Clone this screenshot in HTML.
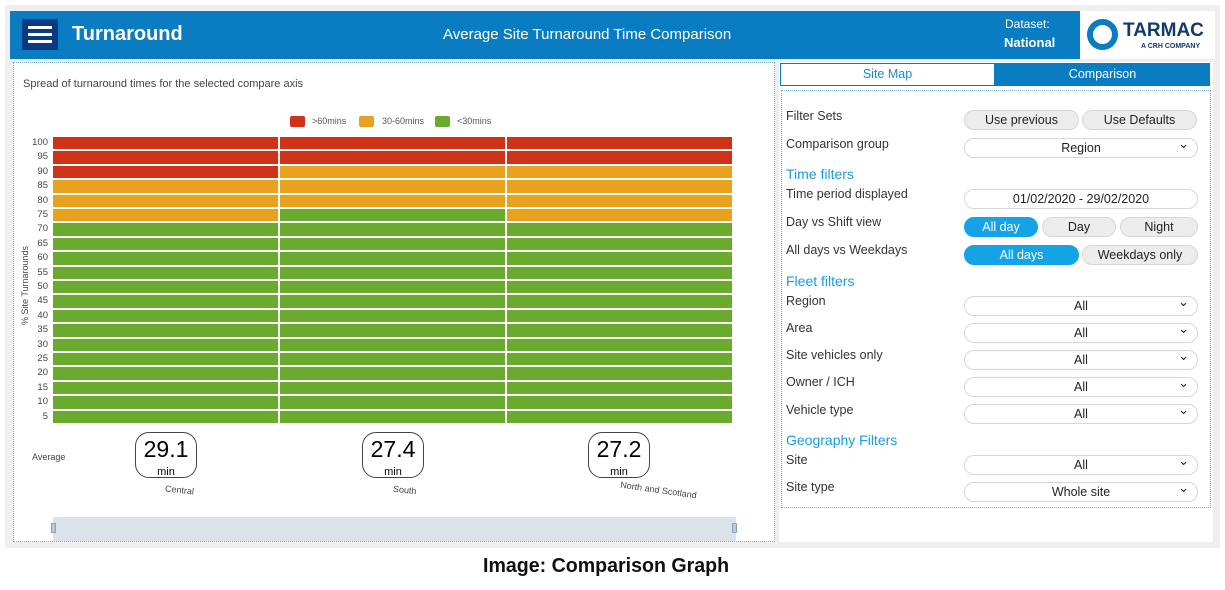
<!DOCTYPE html>
<html><head><meta charset="utf-8"><style>
*{margin:0;padding:0;box-sizing:border-box}
body{width:1225px;height:590px;background:#fff;font-family:"Liberation Sans",sans-serif;position:relative;overflow:hidden}
.a{position:absolute}
.frame{left:5px;top:5px;width:1215px;height:543px;background:#efefef}
.hdr{left:10px;top:11px;width:1205px;height:48px;background:#0a7cc1;color:#fff}
.lp{left:13px;top:62px;width:762px;height:480px;background:#fff;border:1px dotted #7aaedc}
.rp{left:779px;top:62px;width:434px;height:480px;background:#fff}
.lbl{font-size:12.5px;color:#333}
.btn{position:absolute;height:20px;border-radius:10px;background:#ececec;border:1px solid #d6d6d6;font-size:12.5px;text-align:center;line-height:18px;color:#222}
.sel{position:absolute;left:964px;width:234px;height:20px;border-radius:10px;background:#fff;border:1px solid #d6d6d6;font-size:12.5px;text-align:center;line-height:18px;color:#222}
.sel:after{content:"⌄";position:absolute;right:8px;top:-4px;font-size:13px}
.on{background:#13a3e6;color:#fff;border-color:#13a3e6}
.h2{color:#1a9be0;font-size:14px}
.pill{position:absolute;top:432px;width:62px;height:46px;border:1.5px solid #444;border-radius:14px;text-align:center;background:#fff}
.pill b{display:block;font-weight:normal;font-size:23px;line-height:26px;margin-top:3px}
.pill i{font-style:normal;font-size:11px}
.yl{position:absolute;left:26px;width:22px;text-align:right;font-size:9.5px;color:#444}
</style></head><body>
<div class="a frame"></div>
<div class="a hdr">
 <div class="a" style="left:12px;top:8px;width:36px;height:31px;background:#0a3a82"></div>
 <div class="a" style="left:18px;top:15px;width:24px;height:3px;background:#fff;box-shadow:0 7px 0 #fff,0 14px 0 #fff"></div>
 <div class="a" style="left:62px;top:12px;font-size:20px;font-weight:bold">Turnaround</div>
 <div class="a" style="left:433px;top:15px;font-size:15px">Average Site Turnaround Time Comparison</div>
 <div class="a" style="left:995px;top:6px;font-size:12px">Dataset:</div>
 <div class="a" style="left:994px;top:24px;font-size:13px;font-weight:bold">National</div>
 <div class="a" style="left:1070px;top:0;width:135px;height:48px;background:#fff"></div>
 <div class="a" style="left:1077px;top:8px;width:31px;height:31px;border:6px solid #0a7cc1;border-radius:50%"></div>
 <div class="a" style="left:1113px;top:9px;font-size:19px;font-weight:bold;color:#123a6a">TARMAC</div>
 <div class="a" style="left:1131px;top:32px;font-size:7px;font-weight:bold;color:#123a6a">A CRH COMPANY</div>
</div>
<div class="a lp">
 <div class="a" style="left:9px;top:15px;font-size:11px;color:#444">Spread of turnaround times for the selected compare axis</div>
 <div class="a" style="left:276px;top:53px;width:15px;height:11px;background:#d03218;border-radius:2px"></div>
 <div class="a" style="left:298px;top:53px;font-size:9px;color:#555">&gt;60mins</div>
 <div class="a" style="left:345px;top:53px;width:15px;height:11px;background:#e8a21e;border-radius:2px"></div>
 <div class="a" style="left:368px;top:53px;font-size:9px;color:#555">30-60mins</div>
 <div class="a" style="left:421px;top:53px;width:15px;height:11px;background:#6aab2e;border-radius:2px"></div>
 <div class="a" style="left:443px;top:53px;font-size:9px;color:#555">&lt;30mins</div>
 <div class="a" style="font-size:9px;color:#444;transform:rotate(-90deg);transform-origin:left top;white-space:nowrap;left:6px;top:262px">% Site Turnarounds</div>
</div>
<div id="bars"></div>
<div class="a" style="left:32px;top:452px;font-size:9px;color:#444">Average</div>
<div class="pill" style="left:135px"><b>29.1</b><i>min</i></div>
<div class="pill" style="left:362px"><b>27.4</b><i>min</i></div>
<div class="pill" style="left:588px"><b>27.2</b><i>min</i></div>
<div class="a" style="left:165px;top:485px;font-size:9px;color:#444;transform:rotate(6deg)">Central</div>
<div class="a" style="left:393px;top:485px;font-size:9px;color:#444;transform:rotate(6deg)">South</div>
<div class="a" style="left:620px;top:485px;font-size:9px;color:#444;transform:rotate(8deg)">North and Scotland</div>
<div class="a" style="left:53px;top:517px;width:683px;height:24px;background:#dbe2ea"></div>
<div class="a" style="left:51px;top:523px;width:5px;height:10px;background:#b8c6d8;border:1px solid #8ea4c0"></div>
<div class="a" style="left:732px;top:523px;width:5px;height:10px;background:#b8c6d8;border:1px solid #8ea4c0"></div>
<div class="a rp">
 <div class="a" style="left:1px;top:1px;width:215px;height:23px;border:1px solid #0a7cc1;color:#1a8ad0;font-size:12.5px;text-align:center;line-height:21px">Site Map</div>
 <div class="a" style="left:216px;top:1px;width:215px;height:23px;background:#0a7cc1;color:#fff;font-size:12.5px;text-align:center;line-height:23px">Comparison</div>
 <div class="a" style="left:2px;top:28px;width:430px;height:418px;border:1px dotted #7aaedc"></div>
</div>
<div class="a lbl" style="left:786px;top:109px">Filter Sets</div>
<div class="btn" style="left:964px;top:110px;width:115px">Use previous</div>
<div class="btn" style="left:1082px;top:110px;width:115px">Use Defaults</div>
<div class="a lbl" style="left:786px;top:137px">Comparison group</div>
<div class="sel" style="top:138px">Region</div>
<div class="a h2" style="left:786px;top:166px">Time filters</div>
<div class="a lbl" style="left:786px;top:187px">Time period displayed</div>
<div class="btn" style="left:964px;top:189px;width:234px;background:#fff">01/02/2020 - 29/02/2020</div>
<div class="a lbl" style="left:786px;top:215px">Day vs Shift view</div>
<div class="btn on" style="left:964px;top:217px;width:74px">All day</div>
<div class="btn" style="left:1042px;top:217px;width:74px">Day</div>
<div class="btn" style="left:1120px;top:217px;width:78px">Night</div>
<div class="a lbl" style="left:786px;top:243px">All days vs Weekdays</div>
<div class="btn on" style="left:964px;top:245px;width:115px">All days</div>
<div class="btn" style="left:1082px;top:245px;width:116px">Weekdays only</div>
<div class="a h2" style="left:786px;top:273px">Fleet filters</div>
<div class="a lbl" style="left:786px;top:294px">Region</div><div class="sel" style="top:296px">All</div>
<div class="a lbl" style="left:786px;top:321px">Area</div><div class="sel" style="top:323px">All</div>
<div class="a lbl" style="left:786px;top:348px">Site vehicles only</div><div class="sel" style="top:350px">All</div>
<div class="a lbl" style="left:786px;top:375px">Owner / ICH</div><div class="sel" style="top:377px">All</div>
<div class="a lbl" style="left:786px;top:403px">Vehicle type</div><div class="sel" style="top:404px">All</div>
<div class="a h2" style="left:786px;top:432px">Geography Filters</div>
<div class="a lbl" style="left:786px;top:453px">Site</div><div class="sel" style="top:455px">All</div>
<div class="a lbl" style="left:786px;top:480px">Site type</div><div class="sel" style="top:482px">Whole site</div>
<div class="a" style="left:483px;top:555px;font-size:20px;font-weight:bold;color:#111;white-space:nowrap;transform:scaleX(0.98);transform-origin:left top">Image: Comparison Graph</div>
<script>
var R='#d03218',O='#e8a21e',G='#6aab2e';
var cols=[[53,278,[3,3]],[280,505,[2,3]],[507,732,[2,4]]];
var h='';
for(var i=0;i<20;i++){
 var v=100-5*i, y=137+i*14.4;
 h+='<div class="yl" style="top:'+(y+0)+'px">'+v+'</div>';
 cols.forEach(function(c){
  var col=i<c[2][0]?R:(i<c[2][0]+c[2][1]?O:G);
  h+='<div class="a" style="left:'+c[0]+'px;top:'+y.toFixed(1)+'px;width:'+(c[1]-c[0])+'px;height:12.4px;background:'+col+'"></div>';
 });
}
document.getElementById('bars').innerHTML=h;
</script>
</body></html>
